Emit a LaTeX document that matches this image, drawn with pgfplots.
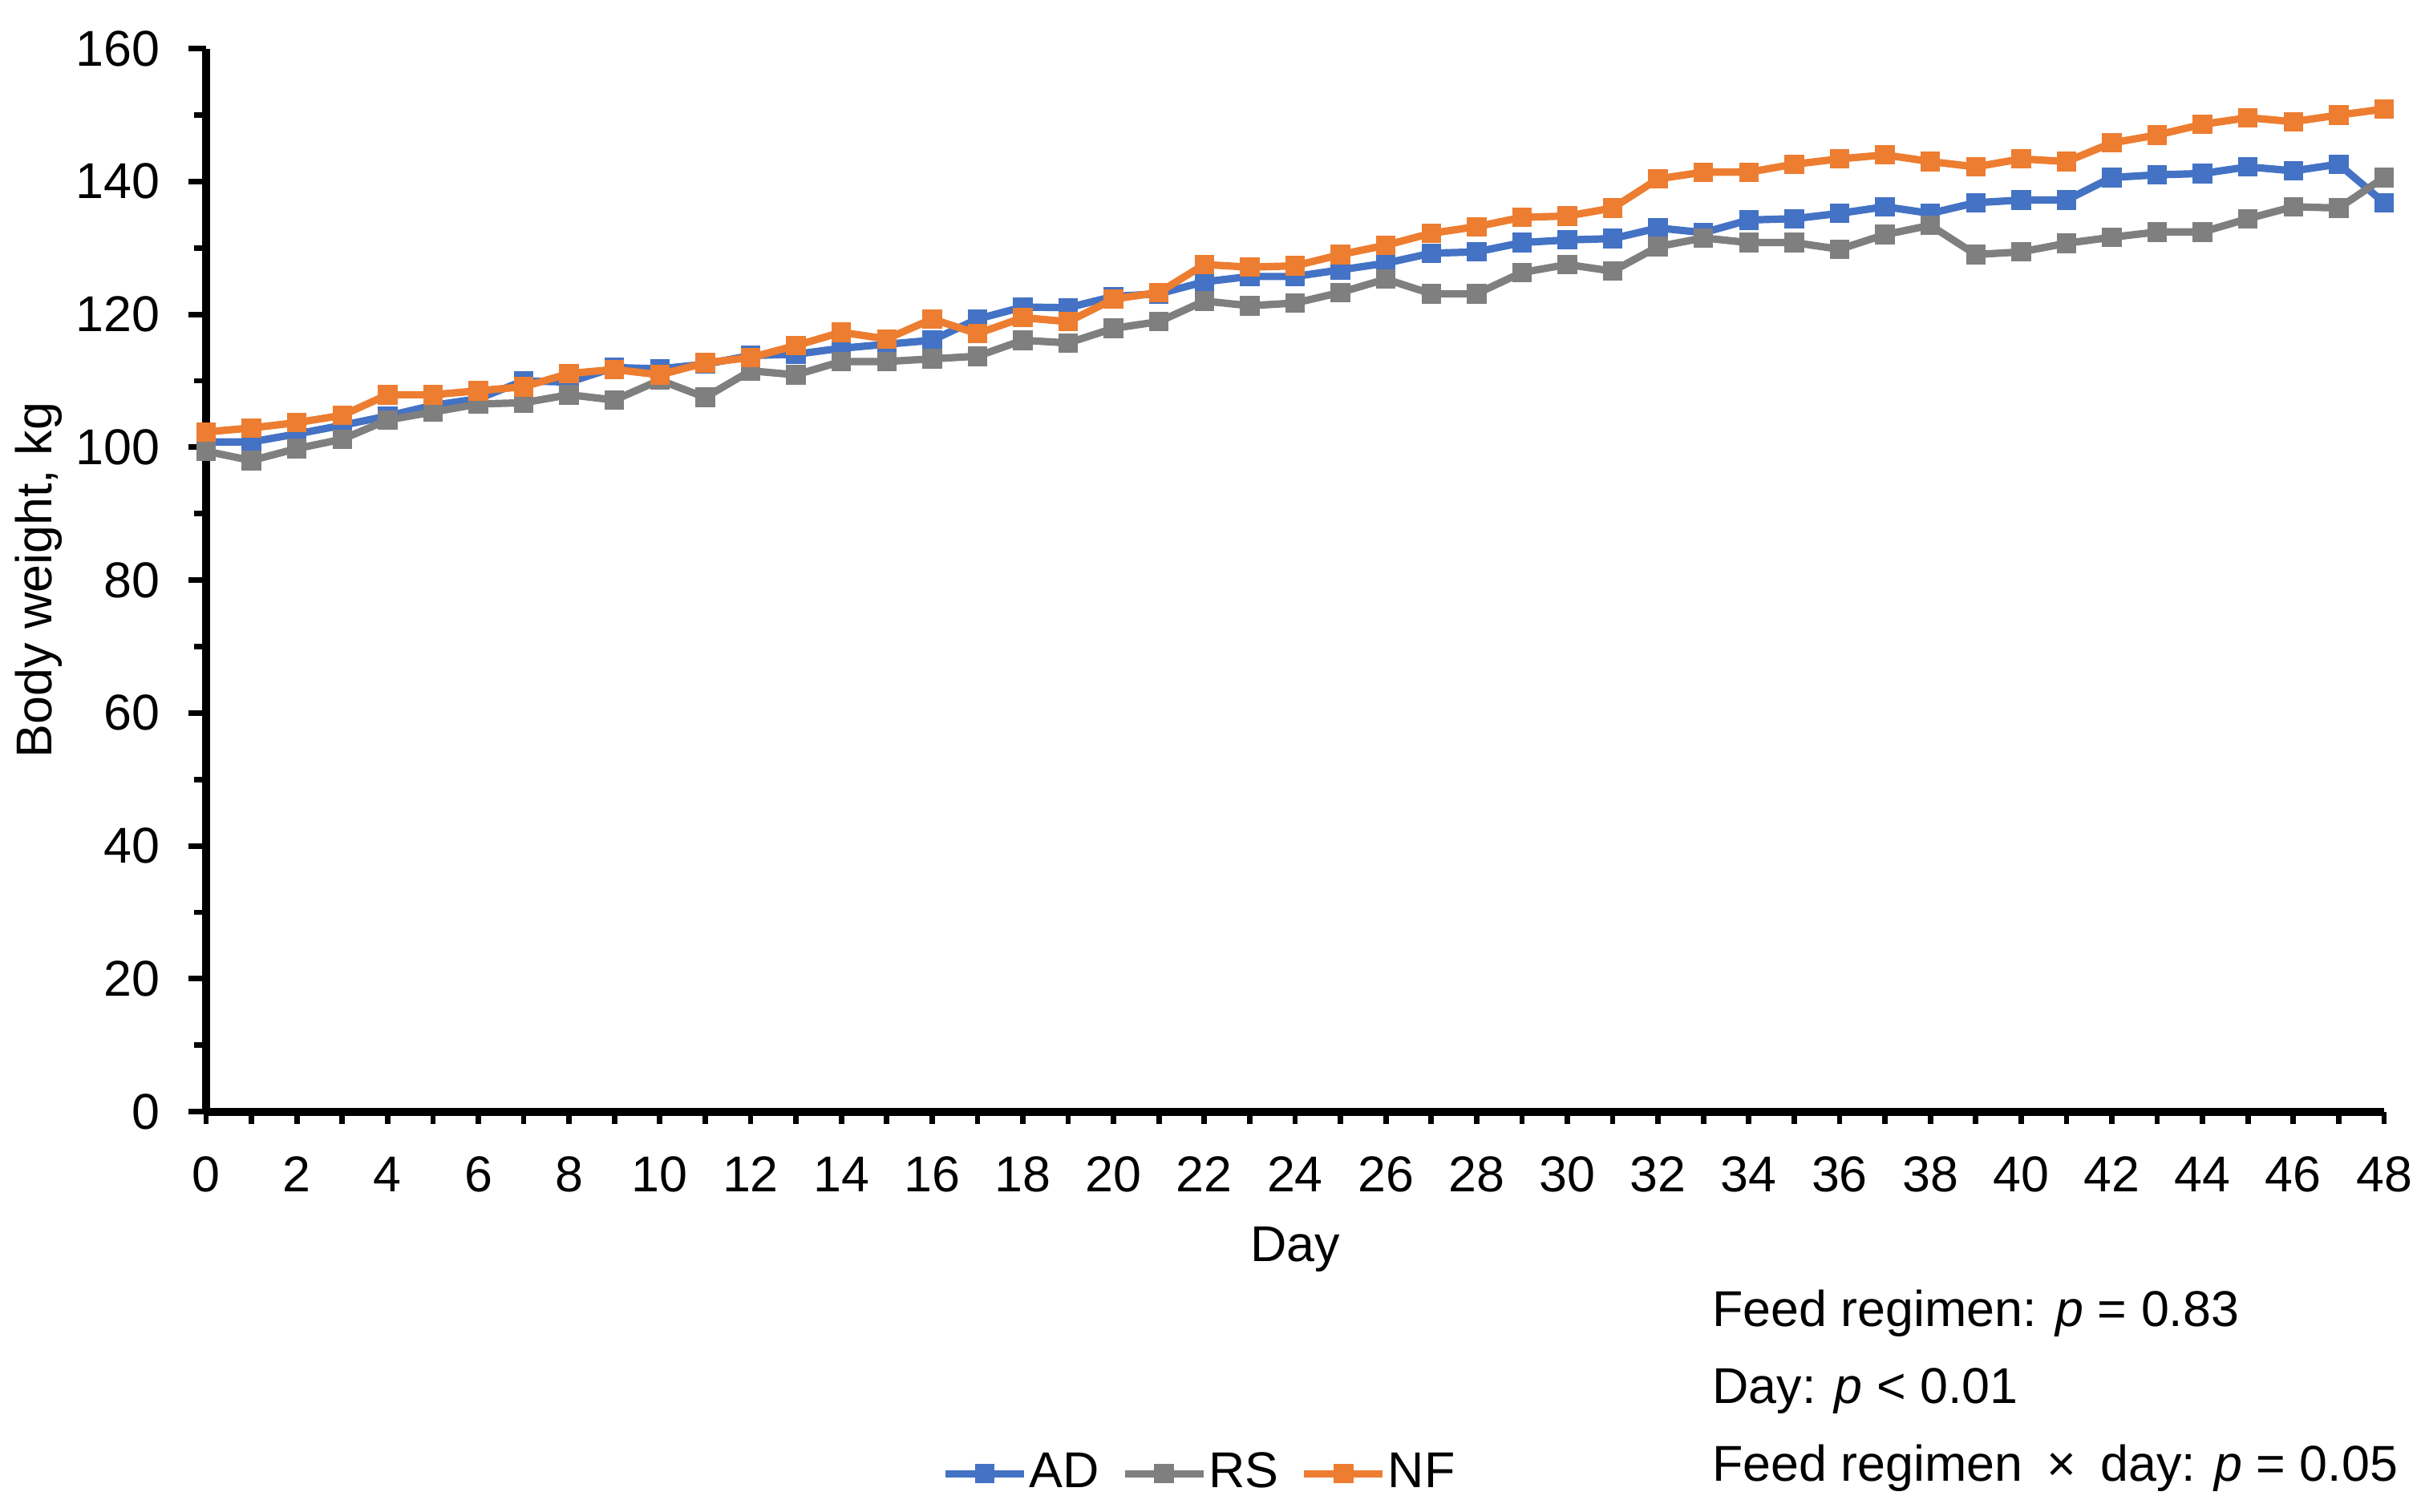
\documentclass[border=0pt]{standalone}
\usepackage{fontspec}
\setmainfont{Liberation Sans}
\usepackage{pgfplots}
\usepackage{pgfplotstable}
\pgfplotsset{compat=1.18}
\definecolor{cAD}{RGB}{68,114,196}
\definecolor{cRS}{RGB}{127,127,127}
\definecolor{cNF}{RGB}{237,125,49}
\pgfplotstableread{
day AD RS NF
0 100.8 99.4 102.3
1 100.8 98.0 102.9
2 102.0 99.8 103.7
3 103.3 101.2 104.8
4 104.7 104.1 107.9
5 106.3 105.3 107.9
6 107.3 106.5 108.5
7 110.0 106.7 109.1
8 109.8 107.9 111.1
9 112.0 107.1 111.7
10 111.8 110.1 110.9
11 112.5 107.5 112.7
12 113.8 111.5 113.5
13 114.0 110.9 115.3
14 114.9 112.9 117.3
15 115.5 112.9 116.3
16 116.1 113.3 119.3
17 119.3 113.7 117.1
18 121.1 116.1 119.5
19 121.0 115.7 118.9
20 122.7 117.9 122.3
21 123.1 118.9 123.3
22 124.9 122.0 127.5
23 125.7 121.3 127.1
24 125.7 121.7 127.3
25 126.7 123.3 129.0
26 127.7 125.3 130.4
27 129.2 123.1 132.2
28 129.4 123.1 133.2
29 130.8 126.3 134.6
30 131.2 127.5 134.8
31 131.4 126.5 136.0
32 133.0 130.2 140.4
33 132.3 131.5 141.4
34 134.2 130.8 141.4
35 134.4 130.8 142.6
36 135.2 129.8 143.4
37 136.2 132.0 144.0
38 135.2 133.4 143.0
39 136.8 129.0 142.2
40 137.2 129.4 143.4
41 137.2 130.7 143.0
42 140.6 131.6 145.8
43 141.0 132.4 147.0
44 141.2 132.4 148.6
45 142.2 134.4 149.6
46 141.6 136.2 149.0
47 142.6 136.0 150.0
48 136.8 140.6 150.9
}\datatable
\begin{document}
\fontsize{15.7}{18.8}\selectfont
\begin{tikzpicture}
\begin{axis}[
  name=ax,
  scale only axis,
  width=679pt, height=331.5pt,
  xmin=0, xmax=48, ymin=0, ymax=160,
  axis x line*=bottom, axis y line*=left,
  axis line style={line width=2.5pt, black},
  tick align=outside,
  xtick={0,2,...,48},
  minor xtick={0,1,...,48},
  ytick={0,20,...,160},
  minor ytick={10,30,...,150},
  major tick length=5.5pt,
  minor tick length=3.75pt,
  tick style={line width=1.7pt, black},
  every major x tick/.append style={draw=none},
  /pgf/number format/assume math mode=true,
  yticklabel style={anchor=east, inner sep=0pt, xshift=-8.75pt},
  xticklabel style={anchor=north, inner sep=0pt, yshift=-8.35pt},
  xlabel={Day},
  ylabel={Body weight, kg},
  every axis x label/.style={at={(axis description cs:0.5,-0.1407)}, anchor=base},
  every axis y label/.style={at={(axis description cs:-0.0768,0.5)}, rotate=90, anchor=center, inner sep=0pt},
  clip=false,
  legend columns=3,
  legend style={at={(axis description cs:0.3375,-0.3406)}, anchor=west, draw=none, fill=none,
    inner sep=0pt, nodes={inner sep=0.5pt},
    /tikz/every even column/.append style={column sep=6.3pt}},
  legend image code/.code={\draw[mark repeat=2,mark phase=2,#1] plot coordinates {(0pt,0pt) (12.25pt,0pt) (24.5pt,0pt)};},
  every axis plot/.append style={line width=2.3pt, mark=square*, mark size=1.9pt, mark options={solid}},
]
\addplot[color=cAD] table[x=day,y=AD] {\datatable};
\addlegendentry{AD}
\addplot[color=cRS] table[x=day,y=RS] {\datatable};
\addlegendentry{RS}
\addplot[color=cNF] table[x=day,y=NF] {\datatable};
\addlegendentry{NF}
\end{axis}
\node[anchor=base west, inner sep=0pt] at (469.4pt,-66.9pt) {Feed regimen: \textit{p} = 0.83};
\node[anchor=base west, inner sep=0pt] at (469.4pt,-90.9pt) {Day: \textit{p} < 0.01};
\node[anchor=base west, inner sep=0pt] at (469.4pt,-115.3pt) {Feed regimen\hspace{7.5pt}×\hspace{7.5pt}day: \textit{p} = 0.05};
\pgfresetboundingbox
\path[use as bounding box] (-64.25pt,-124.85pt) rectangle (691.75pt,346.65pt);
\end{tikzpicture}
\end{document}
